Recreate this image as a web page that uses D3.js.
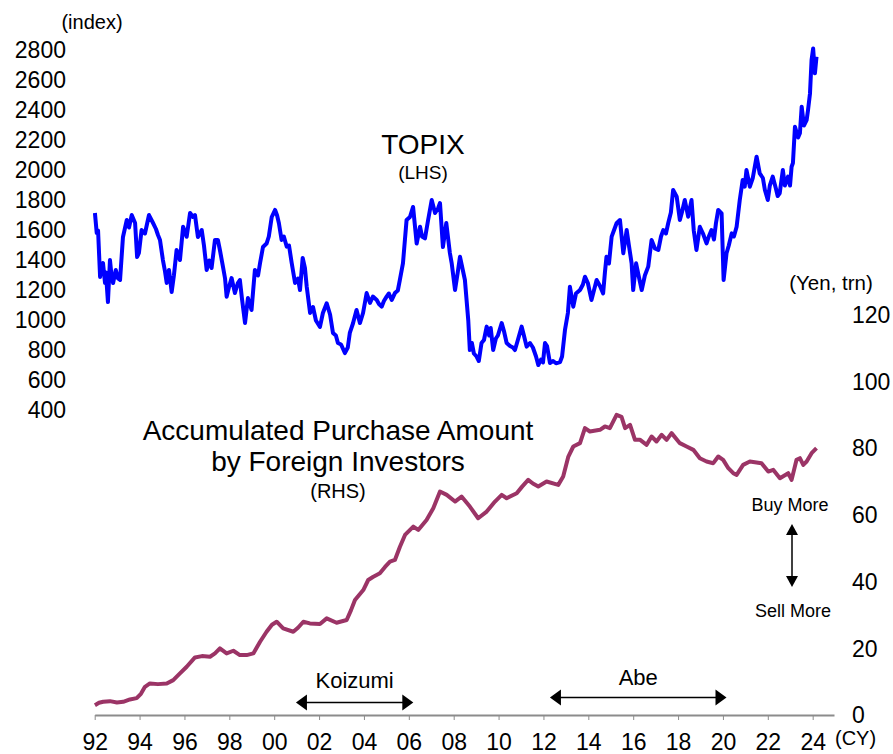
<!DOCTYPE html>
<html>
<head>
<meta charset="utf-8">
<script src="https://cdn.jsdelivr.net/npm/d3@7"></script>
<style>
  body { margin: 0; background: #fff; }
  svg { display: block; font-family: Arial, "Liberation Sans", sans-serif; }
</style>
</head>
<body>
<svg width="893" height="754"></svg>
<script>
// TOPIX (index, LHS) – [year, value]
const topix = [
  [1992.01,1717],[1992.09,1583],[1992.15,1600],[1992.24,1290],[1992.30,1360],[1992.37,1383],[1992.46,1250],[1992.50,1320],
  [1992.59,1123],[1992.68,1403],[1992.75,1300],[1992.82,1250],[1992.94,1337],[1993.04,1280],[1993.13,1270],[1993.26,1557],
  [1993.43,1670],[1993.53,1620],[1993.65,1703],[1993.80,1650],[1993.89,1423],[1993.97,1450],[1994.09,1603],[1994.24,1580],
  [1994.42,1703],[1994.60,1650],[1994.73,1610],[1994.82,1570],[1994.91,1537],[1995.04,1403],[1995.13,1330],[1995.21,1250],
  [1995.31,1337],[1995.43,1190],[1995.53,1300],[1995.65,1470],[1995.80,1403],[1995.94,1625],[1996.10,1558],[1996.25,1717],
  [1996.38,1690],[1996.47,1703],[1996.60,1557],[1996.77,1603],[1996.87,1500],[1996.99,1337],[1997.10,1400],[1997.21,1350],
  [1997.36,1537],[1997.49,1537],[1997.58,1470],[1997.72,1356],[1997.81,1280],[1997.88,1159],[1997.98,1220],[1998.10,1283],
  [1998.25,1183],[1998.38,1250],[1998.47,1270],[1998.56,1150],[1998.70,983],[1998.83,1150],[1998.99,1070],[1999.14,1337],
  [1999.28,1300],[1999.37,1383],[1999.50,1490],[1999.66,1513],[1999.76,1560],[1999.89,1690],[2000.04,1737],[2000.13,1700],
  [2000.21,1648],[2000.33,1537],[2000.43,1560],[2000.56,1492],[2000.66,1500],[2000.78,1383],[2000.93,1250],[2001.06,1280],
  [2001.15,1203],[2001.27,1417],[2001.37,1350],[2001.45,1225],[2001.60,1050],[2001.73,1090],[2001.86,1000],[2002.04,957],
  [2002.17,1050],[2002.34,1115],[2002.49,1040],[2002.62,917],[2002.75,900],[2002.84,850],[2002.98,840],[2003.15,783],
  [2003.28,820],[2003.37,917],[2003.51,980],[2003.67,1070],[2003.82,983],[2003.96,1050],[2004.12,1183],[2004.27,1117],
  [2004.40,1160],[2004.57,1137],[2004.67,1110],[2004.79,1092],[2004.89,1130],[2005.01,1159],[2005.11,1180],[2005.24,1137],
  [2005.38,1183],[2005.51,1200],[2005.60,1270],[2005.74,1383],[2005.90,1670],[2006.05,1690],[2006.19,1757],[2006.35,1513],
  [2006.50,1625],[2006.59,1560],[2006.72,1547],[2006.86,1670],[2007.02,1803],[2007.17,1717],[2007.31,1750],[2007.39,1783],
  [2007.52,1490],[2007.67,1650],[2007.83,1450],[2007.91,1383],[2008.06,1203],[2008.18,1320],[2008.28,1425],[2008.50,1270],
  [2008.65,1000],[2008.72,803],[2008.81,850],[2008.90,780],[2009.02,760],[2009.12,730],[2009.24,850],[2009.35,870],
  [2009.47,959],[2009.58,900],[2009.65,950],[2009.76,803],[2009.88,880],[2009.97,900],[2010.14,983],[2010.24,930],
  [2010.36,850],[2010.51,830],[2010.64,820],[2010.73,803],[2010.86,870],[2011.03,959],[2011.13,900],[2011.25,826],
  [2011.40,850],[2011.53,820],[2011.67,760],[2011.77,703],[2011.89,740],[2011.98,720],[2012.07,850],[2012.16,830],
  [2012.29,717],[2012.43,730],[2012.56,715],[2012.74,723],[2012.83,760],[2012.96,937],[2013.09,1050],[2013.18,1225],
  [2013.33,1092],[2013.45,1180],[2013.63,1203],[2013.76,1240],[2013.85,1292],[2013.98,1250],[2014.14,1137],[2014.25,1200],
  [2014.37,1270],[2014.52,1230],[2014.66,1181],[2014.74,1320],[2014.81,1425],[2014.92,1380],[2015.04,1559],[2015.14,1600],
  [2015.26,1648],[2015.41,1670],[2015.56,1448],[2015.71,1603],[2015.81,1500],[2015.93,1381],[2016.00,1203],[2016.13,1381],
  [2016.24,1300],[2016.38,1203],[2016.52,1300],[2016.67,1359],[2016.82,1537],[2016.97,1480],[2017.12,1470],[2017.24,1560],
  [2017.34,1603],[2017.46,1580],[2017.56,1648],[2017.68,1720],[2017.78,1870],[2017.94,1825],[2018.08,1670],[2018.17,1720],
  [2018.30,1803],[2018.45,1692],[2018.60,1803],[2018.70,1600],[2018.82,1470],[2018.97,1625],[2019.11,1580],[2019.27,1514],
  [2019.37,1560],[2019.49,1603],[2019.60,1540],[2019.69,1650],[2019.79,1737],[2019.94,1714],[2020.03,1270],[2020.16,1448],
  [2020.26,1500],[2020.39,1581],[2020.49,1560],[2020.61,1625],[2020.75,1803],[2020.88,1937],[2020.97,1892],[2021.05,2003],
  [2021.20,1892],[2021.33,1950],[2021.50,2092],[2021.64,1981],[2021.78,1950],[2021.87,1870],[2022.00,1803],[2022.09,1900],
  [2022.22,1959],[2022.36,1880],[2022.44,1830],[2022.53,1848],[2022.67,2003],[2022.76,1900],[2022.90,1959],[2022.99,1900],
  [2023.06,2025],[2023.12,2050],[2023.21,2292],[2023.35,2220],[2023.43,2248],[2023.51,2425],[2023.61,2300],[2023.73,2336],
  [2023.79,2400],[2023.88,2514],[2023.95,2736],[2024.02,2814],[2024.10,2648],[2024.17,2758]
];

// Accumulated purchase by foreign investors (Yen trn, RHS)
const foreign = [
  [1992.01,3.1],[1992.19,3.8],[1992.38,4.1],[1992.68,4.3],[1992.99,3.9],[1993.27,4.1],[1993.57,4.8],[1993.87,5.2],
  [1994.06,6.5],[1994.24,8.6],[1994.46,9.6],[1994.82,9.4],[1995.21,9.6],[1995.50,10.6],[1995.80,12.6],[1996.10,14.6],
  [1996.47,17.4],[1996.78,17.8],[1997.14,17.6],[1997.36,18.6],[1997.58,20.1],[1997.88,18.6],[1998.18,19.4],[1998.47,18.1],
  [1998.77,18.1],[1999.07,18.6],[1999.37,22.1],[1999.66,25.1],[1999.90,27.2],[2000.11,28.1],[2000.40,26.1],[2000.85,25.1],
  [2001.06,26.3],[2001.30,28.1],[2001.59,27.6],[2002.04,27.4],[2002.34,29.1],[2002.78,27.8],[2003.23,28.6],[2003.42,31.5],
  [2003.60,34.6],[2003.97,37.6],[2004.19,40.6],[2004.40,41.5],[2004.71,42.6],[2004.94,44.5],[2005.16,46.1],[2005.38,46.6],
  [2005.60,50.5],[2005.83,54.1],[2006.20,56.6],[2006.42,55.6],[2006.79,58.6],[2007.09,62.1],[2007.39,67.1],[2007.69,66.1],
  [2008.06,64.1],[2008.35,65.6],[2008.72,62.6],[2009.09,59.1],[2009.47,61.1],[2009.84,64.1],[2010.14,66.1],[2010.36,65.1],
  [2010.81,66.6],[2011.04,68.5],[2011.32,70.6],[2011.53,69.5],[2011.77,68.6],[2012.14,70.1],[2012.66,69.1],[2012.88,71.6],
  [2013.11,77.6],[2013.33,80.6],[2013.63,81.6],[2013.85,86.1],[2014.07,85.1],[2014.52,85.6],[2014.74,86.6],[2014.96,86.1],
  [2015.26,90.1],[2015.48,89.5],[2015.64,86.1],[2015.86,87.1],[2016.08,82.6],[2016.31,82.6],[2016.60,81.1],[2016.82,83.6],
  [2017.04,82.1],[2017.27,84.1],[2017.49,82.6],[2017.71,84.6],[2018.08,81.6],[2018.38,80.6],[2018.68,79.6],[2018.97,77.1],
  [2019.27,76.1],[2019.57,75.6],[2019.79,77.6],[2020.01,76.6],[2020.24,74.1],[2020.46,72.6],[2020.61,72.1],[2020.90,75.1],
  [2021.20,76.1],[2021.72,75.6],[2022.02,73.1],[2022.24,73.6],[2022.54,71.1],[2022.91,72.6],[2023.06,70.6],[2023.28,76.6],
  [2023.43,77.1],[2023.58,75.1],[2023.73,76.1],[2023.95,78.6],[2024.17,80.1]
];

const yearTicks = d3.range(1992, 2025, 2);
const topixTicks = d3.range(400, 2801, 200);
const foreignTicks = d3.range(0, 121, 20);

// periods marked under the lines
const periods = [
  { name: "Koizumi", from: 2000.97, to: 2006.2, y: 702.5, ly: 688 },
  { name: "Abe", from: 2012.29, to: 2020.16, y: 697.5, ly: 685 }
];

const svg = d3.select("svg");
const font = 'Arial, "Liberation Sans", sans-serif';

const x = d3.scaleLinear().domain([1992, 2024.95]).range([94.7, 834]);
const yL = d3.scaleLinear().domain([400, 2800]).range([410.5, 50.5]);
const yR = d3.scaleLinear().domain([0, 120]).range([715.5, 315]);

// x axis
const xAxis = svg.append("g")
  .attr("transform", "translate(0,715)")
  .call(d3.axisBottom(x).tickValues(yearTicks).tickSizeInner(5).tickSizeOuter(0).tickPadding(14)
    .tickFormat(d => String(d % 100).padStart(2, "0")));
xAxis.select(".domain").attr("stroke", "#8c8c8c").attr("stroke-width", 2);
xAxis.selectAll(".tick line").attr("stroke", "#8c8c8c").attr("stroke-width", 1);
xAxis.selectAll(".tick text").attr("font-size", 23).attr("font-family", font).attr("fill", "#000");

// left axis
const lAxis = svg.append("g")
  .attr("transform", "translate(68,0)")
  .call(d3.axisLeft(yL).tickValues(topixTicks).tickSize(0).tickPadding(2).tickFormat(d3.format("d")));
lAxis.select(".domain").remove();
lAxis.selectAll(".tick text").attr("font-size", 23).attr("font-family", font).attr("fill", "#000");

// right axis
const rAxis = svg.append("g")
  .attr("transform", "translate(850,0)")
  .call(d3.axisRight(yR).tickValues(foreignTicks).tickSize(0).tickPadding(2));
rAxis.select(".domain").remove();
rAxis.selectAll(".tick text").attr("font-size", 23).attr("font-family", font).attr("fill", "#000");

// lines
svg.append("path")
  .datum(foreign)
  .attr("fill", "none")
  .attr("stroke", "#9b3466")
  .attr("stroke-width", 4)
  .attr("stroke-linejoin", "round")
  .attr("d", d3.line().x(d => x(d[0])).y(d => yR(d[1])));

svg.append("path")
  .datum(topix)
  .attr("fill", "none")
  .attr("stroke", "#0000ff")
  .attr("stroke-width", 4)
  .attr("stroke-linejoin", "round")
  .attr("d", d3.line().x(d => x(d[0])).y(d => yL(d[1])));

// labels
function label(txt, px, py, size, anchor) {
  svg.append("text")
    .attr("x", px).attr("y", py)
    .attr("font-size", size)
    .attr("font-family", font)
    .attr("text-anchor", anchor || "middle")
    .text(txt);
}
label("(index)", 92, 29, 20);
label("(Yen, trn)", 831, 290, 20.5);
label("(CY)", 835, 745, 20, "start");
label("TOPIX", 423, 154, 28);
label("(LHS)", 423, 179, 19);
label("Accumulated Purchase Amount", 338, 440, 28);
label("by Foreign Investors", 338, 471, 28);
label("(RHS)", 338, 498, 20);
label("Buy More", 790, 511, 18);
label("Sell More", 793, 617, 18);

// period arrows
periods.forEach(p => {
  const x0 = x(p.from), x1 = x(p.to);
  svg.append("line")
    .attr("x1", x0 + 6).attr("x2", x1 - 6)
    .attr("y1", p.y).attr("y2", p.y)
    .attr("stroke", "#000").attr("stroke-width", 1.5);
  svg.append("path").attr("d", `M${x0},${p.y}l11,-8v16z`).attr("fill", "#000");
  svg.append("path").attr("d", `M${x1},${p.y}l-11,-8v16z`).attr("fill", "#000");
  label(p.name, (x0 + x1) / 2, p.ly, 22);
});

// buy / sell arrow
svg.append("line")
  .attr("x1", 792).attr("x2", 792).attr("y1", 530).attr("y2", 581)
  .attr("stroke", "#000").attr("stroke-width", 1.5);
svg.append("path").attr("d", "M792,524l-6,11h12z").attr("fill", "#000");
svg.append("path").attr("d", "M792,587l-6,-11h12z").attr("fill", "#000");
</script>
</body>
</html>
